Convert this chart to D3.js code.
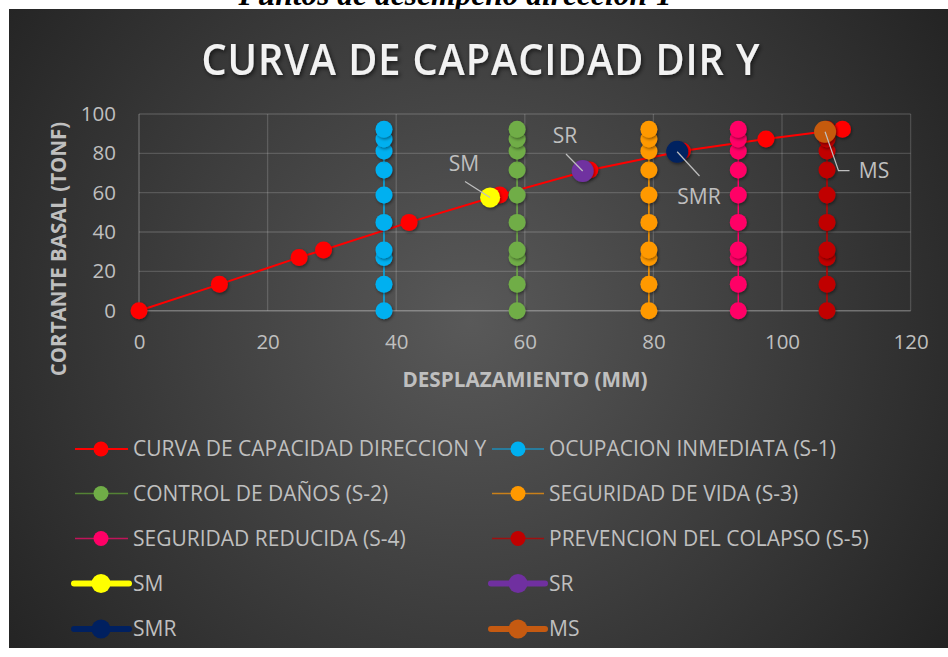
<!DOCTYPE html>
<html>
<head>
<meta charset="utf-8">
<script src="https://cdn.jsdelivr.net/npm/d3@7"></script>
<style>
  body { margin: 0; background: #ffffff; }
  svg { display: block; font-family: 'Open Sans', sans-serif; }
</style>
</head>
<body>
<svg id="chart" width="948" height="657"></svg>
<script>
// Capacity curve (pushover), direction Y
const capX = [0, 12.5, 24.9, 28.7, 42.0, 56.1, 70.1, 84.5, 97.5, 109.4];
const capY = [0, 13.4, 27.1, 30.9, 44.9, 58.8, 71.5, 81.2, 87.3, 92.2];

// Performance levels (vertical limits)
const levelNames = ["OCUPACION INMEDIATA (S-1)", "CONTROL DE DAÑOS (S-2)", "SEGURIDAD DE VIDA (S-3)",
                    "SEGURIDAD REDUCIDA (S-4)", "PREVENCION DEL COLAPSO (S-5)"];
const levelX = [38.1, 58.8, 79.3, 93.2, 107.0];
const levelY = [0, 13.4, 27.1, 30.9, 44.9, 58.8, 71.5, 81.2, 87.3, 92.2];
const levelColors = ["#00B0F0", "#70AD47", "#FF9900", "#FF0066", "#C00000"];
const levelLineColors = ["#1C8DB8", "#548235", "#C9801A", "#C0145A", "#A01010"];

// Performance points
const perfNames = ["SM", "SR", "SMR", "MS"];
const perfX = [54.6, 69.0, 83.7, 106.7];
const perfY = [57.6, 71.0, 80.8, 91.0];
const perfColors = ["#FFFF00", "#7030A0", "#002060", "#C55A11"];

const xTicks = [0, 20, 40, 60, 80, 100, 120];
const yTicks = [0, 20, 40, 60, 80, 100];

const capName = "CURVA DE CAPACIDAD DIRECCION Y";
const capColor = "#FF0000";

const svg = d3.select("#chart");
const labelGray = "#BFBFBF";

// Caption above the chart (its upper part runs off the page, the rest sits behind the chart box)
svg.append("text")
  .attr("x", 456).attr("y", 5)
  .attr("text-anchor", "middle")
  .style("font-family", "'Liberation Serif', serif")
  .style("font-style", "italic").style("font-weight", "bold")
  .style("font-size", "31.5px").attr("fill", "#000")
  .text("Puntos de desempeño dirección Y");

const defs = svg.append("defs");
const bg = defs.append("radialGradient").attr("id", "bg")
  .attr("gradientUnits", "userSpaceOnUse")
  .attr("cx", 470).attr("cy", 320).attr("r", 620);
bg.append("stop").attr("offset", "0%").attr("stop-color", "#595959");
bg.append("stop").attr("offset", "100%").attr("stop-color", "#1f1f1f");

const shadow = defs.append("filter").attr("id", "shadow")
  .attr("x", "-50%").attr("y", "-50%").attr("width", "200%").attr("height", "200%");
shadow.append("feDropShadow").attr("dx", 1).attr("dy", 1.5)
  .attr("stdDeviation", 1.5).attr("flood-color", "#000").attr("flood-opacity", 0.45);

const tshadow = defs.append("filter").attr("id", "tshadow")
  .attr("x", "-10%").attr("y", "-30%").attr("width", "120%").attr("height", "160%");
tshadow.append("feDropShadow").attr("dx", 1.5).attr("dy", 2)
  .attr("stdDeviation", 2).attr("flood-color", "#000").attr("flood-opacity", 0.6);

// Chart box
svg.append("rect").attr("x", 9).attr("y", 9).attr("width", 939).attr("height", 639)
  .attr("fill", "url(#bg)");

// Title
svg.append("text")
  .attr("x", 481).attr("y", 75)
  .attr("text-anchor", "middle")
  .attr("fill", "#F2F2F2")
  .attr("filter", "url(#tshadow)")
  .attr("textLength", 559).attr("lengthAdjust", "spacingAndGlyphs")
  .style("font-size", "43px").style("font-weight", "600")
  .style("letter-spacing", "1px")
  .text("CURVA DE CAPACIDAD DIR Y");

const x = d3.scaleLinear().domain([0, 120]).range([139, 910.6]);
const y = d3.scaleLinear().domain([0, 100]).range([310.7, 114]);

// Gridlines
const gridColor = "rgba(255,255,255,0.16)";
svg.append("g")
  .selectAll("line.h").data(yTicks.filter(d => d > 0)).join("line")
  .attr("x1", x(0)).attr("x2", x(120))
  .attr("y1", d => y(d)).attr("y2", d => y(d))
  .attr("stroke", gridColor).attr("stroke-width", 1.3);
svg.append("g")
  .selectAll("line.v").data(xTicks.filter(d => d > 0)).join("line")
  .attr("x1", d => x(d)).attr("x2", d => x(d))
  .attr("y1", y(0)).attr("y2", y(100))
  .attr("stroke", gridColor).attr("stroke-width", 1.3);
// Axis lines
svg.append("line").attr("x1", x(0)).attr("x2", x(0)).attr("y1", y(0)).attr("y2", y(100))
  .attr("stroke", "rgba(255,255,255,0.22)").attr("stroke-width", 1.5);
svg.append("line").attr("x1", x(0)).attr("x2", x(120)).attr("y1", y(0)).attr("y2", y(0))
  .attr("stroke", "rgba(255,255,255,0.30)").attr("stroke-width", 1.5);

// Axes (labels only)
const xAxis = svg.append("g").attr("transform", `translate(0,${y(0)})`)
  .call(d3.axisBottom(x).tickValues(xTicks).tickSize(0).tickPadding(24));
const yAxis = svg.append("g").attr("transform", `translate(${x(0)},0)`)
  .call(d3.axisLeft(y).tickValues(yTicks).tickSize(0).tickPadding(23));
[xAxis, yAxis].forEach(g => {
  g.select(".domain").remove();
  g.selectAll("text").attr("fill", labelGray)
    .style("font-size", "20.5px").style("font-family", "'Open Sans', sans-serif");
});

// Axis titles
svg.append("text")
  .attr("x", 525).attr("y", 387).attr("text-anchor", "middle")
  .attr("fill", labelGray).style("font-size", "20.7px").style("font-weight", "bold")
  .text("DESPLAZAMIENTO (MM)");
svg.append("text")
  .attr("transform", "translate(66,249) rotate(-90)")
  .attr("text-anchor", "middle")
  .attr("fill", labelGray).style("font-size", "20.5px").style("font-weight", "bold")
  .text("CORTANTE BASAL (TONF)");

const line = d3.line().x(d => x(d[0])).y(d => y(d[1]));

// Capacity curve
const capPts = capX.map((v, i) => [v, capY[i]]);
svg.append("path").datum(capPts).attr("d", line)
  .attr("fill", "none").attr("stroke", capColor).attr("stroke-width", 2);
svg.append("g").selectAll("circle").data(capPts).join("circle")
  .attr("cx", d => x(d[0])).attr("cy", d => y(d[1])).attr("r", 8.5)
  .attr("fill", capColor).attr("filter", "url(#shadow)");

// Performance level series
levelX.forEach((lx, k) => {
  const pts = levelY.map(v => [lx, v]);
  const g = svg.append("g");
  g.append("path").datum(pts).attr("d", line)
    .attr("fill", "none").attr("stroke", levelColors[k]).attr("stroke-width", 1.5);
  g.selectAll("circle").data(pts).join("circle")
    .attr("cx", d => x(d[0])).attr("cy", d => y(d[1])).attr("r", 8.5)
    .attr("fill", levelColors[k]).attr("filter", "url(#shadow)");
});

// Performance points
perfX.forEach((px, k) => {
  svg.append("circle")
    .attr("cx", x(px)).attr("cy", y(perfY[k])).attr("r", k === 0 ? 10 : 11)
    .attr("fill", perfColors[k]).attr("filter", "url(#shadow)");
});

// Data labels with leader lines
const leaderColor = "#BFBFBF";
const labelSpec = [
  { tx: 464, ty: 164, pts: [[465, 181.5], [x(perfX[0]), y(perfY[0])]] },
  { tx: 565, ty: 136, pts: [[566, 154], [x(perfX[1]), y(perfY[1])]] },
  { tx: 699, ty: 196.5, pts: [[699.5, 176], [x(perfX[2]), y(perfY[2])]] },
  { tx: 874, ty: 171, pts: [[x(perfX[3]), y(perfY[3])], [838.5, 170.7], [849.5, 170.7]] }
];
labelSpec.forEach((s, k) => {
  svg.append("path").attr("d", d3.line()(s.pts))
    .attr("fill", "none").attr("stroke", leaderColor).attr("stroke-width", 1.2);
  svg.append("text").attr("x", s.tx).attr("y", s.ty).attr("dy", "0.35em")
    .attr("text-anchor", "middle").attr("fill", labelGray)
    .style("font-size", "21px").text(perfNames[k]);
});

// Legend
const rows = [449, 493.5, 538.5, 583.5, 629];
const colL = { x0: 75, xm: 101, x1: 128, tx: 133 };
const colR = { x0: 492, xm: 518, x1: 544, tx: 549 };
const legendItems = [
  { name: capName, color: capColor, lineColor: capColor, col: colL, row: 0, thick: false },
  { name: levelNames[0], color: levelColors[0], lineColor: levelLineColors[0], col: colR, row: 0, thick: false },
  { name: levelNames[1], color: levelColors[1], lineColor: levelLineColors[1], col: colL, row: 1, thick: false },
  { name: levelNames[2], color: levelColors[2], lineColor: levelLineColors[2], col: colR, row: 1, thick: false },
  { name: levelNames[3], color: levelColors[3], lineColor: levelLineColors[3], col: colL, row: 2, thick: false },
  { name: levelNames[4], color: levelColors[4], lineColor: levelLineColors[4], col: colR, row: 2, thick: false },
  { name: perfNames[0], color: perfColors[0], lineColor: perfColors[0], col: colL, row: 3, thick: true },
  { name: perfNames[1], color: perfColors[1], lineColor: perfColors[1], col: colR, row: 3, thick: true },
  { name: perfNames[2], color: perfColors[2], lineColor: perfColors[2], col: colL, row: 4, thick: true },
  { name: perfNames[3], color: perfColors[3], lineColor: perfColors[3], col: colR, row: 4, thick: true }
];
const legend = svg.append("g");
legendItems.forEach(it => {
  const cy = rows[it.row];
  const c = it.col;
  const g = legend.append("g");
  g.append("line")
    .attr("x1", it.thick ? c.x0 - 1 : c.x0).attr("x2", it.thick ? c.x1 + 1 : c.x1)
    .attr("y1", cy).attr("y2", cy)
    .attr("stroke", it.lineColor).attr("stroke-width", it.thick ? 6 : (it.name === capName ? 2 : 1.5))
    .attr("stroke-linecap", it.thick ? "round" : "butt");
  g.append("circle").attr("cx", c.xm).attr("cy", cy).attr("r", it.thick ? 9.5 : 7.5)
    .attr("fill", it.color);
  g.append("text").attr("x", c.tx).attr("y", cy).attr("dy", "0.35em")
    .attr("fill", labelGray).style("font-size", "21px").text(it.name);
});
</script>
</body>
</html>
